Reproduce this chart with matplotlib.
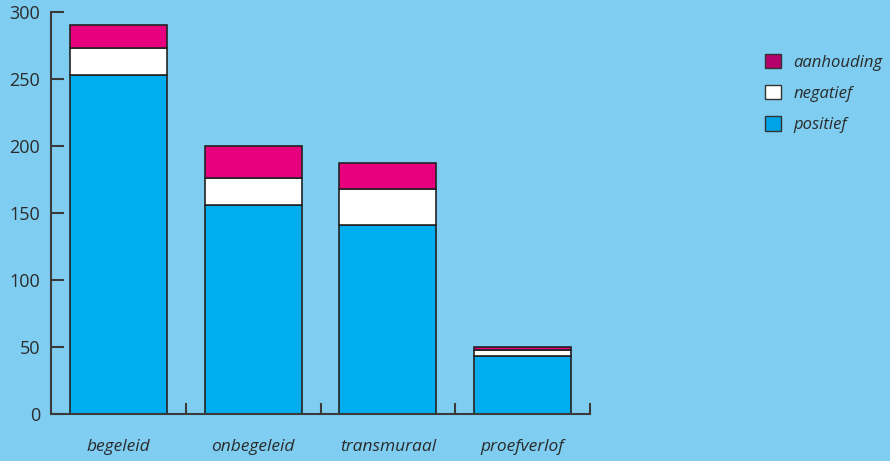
import matplotlib
matplotlib.use("Agg")
import matplotlib.pyplot as plt
from matplotlib.patches import Patch

categories = ["begeleid", "onbegeleid", "transmuraal", "proefverlof"]
positief = [253, 156, 141, 43]
negatief = [20, 20, 27, 5]
aanhouding = [17, 24, 19, 2]
yticks = [0, 50, 100, 150, 200, 250, 300]

bg = "#7FCEF2"
c_pos = "#00AEEF"
c_neg = "#FFFFFF"
c_aan = "#E6007E"
axc = "#3a3a3a"
txt = "#2b2b2b"

plt.rcParams['font.family'] = ['Open Sans', 'DejaVu Sans']

fig = plt.figure(figsize=(8.9, 4.61), dpi=100, facecolor=bg)
ax = fig.add_axes([51/890, 1-414/461, (590-51)/890, (414-12)/461])
ax.set_facecolor(bg)

x = list(range(len(categories)))
w = 0.72
ek = dict(edgecolor="#222222", linewidth=1.2)
ax.bar(x, positief, w, color=c_pos, **ek)
bot2 = positief
ax.bar(x, negatief, w, bottom=bot2, color=c_neg, **ek)
bot3 = [a + b for a, b in zip(positief, negatief)]
ax.bar(x, aanhouding, w, bottom=bot3, color=c_aan, **ek)

ax.set_xlim(-0.5, 3.5)
ax.set_ylim(0, 300)
for s in ["top", "right"]:
    ax.spines[s].set_visible(False)
for s in ["left", "bottom"]:
    ax.spines[s].set_color(axc)
    ax.spines[s].set_linewidth(1.5)

ax.set_yticks(yticks)
ax.set_yticklabels([str(v) for v in yticks])
ax.tick_params(axis="y", direction="in", length=9, width=1.5, color=axc,
               labelsize=13, labelcolor=txt, pad=8)
ax.set_xticks(x)
ax.set_xticklabels(categories, fontstyle="italic")
ax.tick_params(axis="x", which="major", length=0, labelsize=12.5,
               labelcolor=txt, pad=18)
ax.set_xticks([0.5, 1.5, 2.5, 3.5], minor=True)
ax.tick_params(axis="x", which="minor", direction="in", length=8,
               width=1.5, color=axc)

handles = [Patch(facecolor="#B5006B", edgecolor="#333333", linewidth=1.0, label="aanhouding"),
           Patch(facecolor="#FFFFFF", edgecolor="#333333", linewidth=1.0, label="negatief"),
           Patch(facecolor="#00A3E6", edgecolor="#333333", linewidth=1.0, label="positief")]
leg = fig.legend(handles=handles, loc="upper left", bbox_to_anchor=(765/890, 1-54/461),
                 frameon=False, handlelength=0.95, handleheight=0.95,
                 handletextpad=0.75, labelspacing=0.85, borderaxespad=0,
                 borderpad=0, prop=dict(family="Open Sans", style="italic", size=12))
for t in leg.get_texts():
    t.set_color(txt)

fig.savefig("out.png", dpi=100, facecolor=bg)
